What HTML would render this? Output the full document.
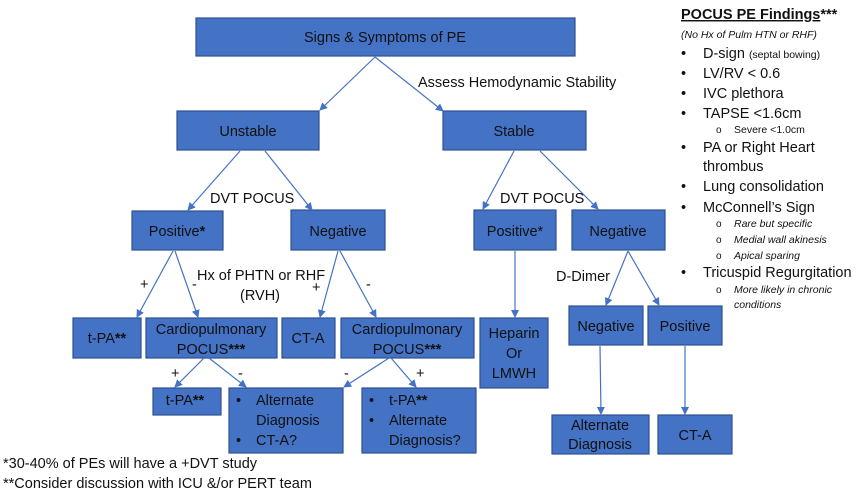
<!DOCTYPE html>
<html><head><meta charset="utf-8"><style>
html,body{margin:0;padding:0;background:#fff;}
svg{display:block;font-family:"Liberation Sans",sans-serif;}
.b{fill:#4472C4;stroke:#2F528F;stroke-width:1.2;}
.t{font-size:14.5px;fill:#111;text-anchor:middle;}
.l{stroke:#4472C4;stroke-width:1.2;fill:none;marker-end:url(#a);}
.x{font-size:14.5px;fill:#111;}
.s{font-size:12px;fill:#111;}
</style></head><body>
<svg width="862" height="491" viewBox="0 0 862 491">
<defs><marker id="a" markerWidth="8" markerHeight="8" refX="7" refY="4" orient="auto" markerUnits="userSpaceOnUse"><path d="M0,0 L8,4 L0,8 z" fill="#4472C4"/></marker></defs>
<rect class="b" x="196" y="18" width="379" height="38"/>
<text class="t" x="385" y="42">Signs &amp; Symptoms of PE</text>
<rect class="b" x="177" y="111" width="142" height="39"/>
<text class="t" x="248" y="136">Unstable</text>
<rect class="b" x="443" y="111" width="143" height="39"/>
<text class="t" x="514" y="136">Stable</text>
<rect class="b" x="132" y="211" width="91" height="39"/>
<text class="t" x="177" y="236">Positive<tspan font-weight="bold">*</tspan></text>
<rect class="b" x="291" y="210" width="94" height="40"/>
<text class="t" x="338" y="236">Negative</text>
<rect class="b" x="474" y="210" width="82" height="40"/>
<text class="t" x="515" y="236">Positive*</text>
<rect class="b" x="572" y="210" width="93" height="40"/>
<text class="t" x="618" y="236">Negative</text>
<rect class="b" x="73" y="318" width="68" height="40"/>
<text class="t" x="107" y="343">t-PA<tspan font-weight="bold">**</tspan></text>
<rect class="b" x="146" y="318" width="131" height="40"/>
<text class="t" x="211" y="334">Cardiopulmonary</text>
<text class="t" x="211" y="354">POCUS<tspan font-weight="bold">***</tspan></text>
<rect class="b" x="282" y="318" width="53" height="40"/>
<text class="t" x="308" y="343">CT-A</text>
<rect class="b" x="341" y="318" width="133" height="40"/>
<text class="t" x="407" y="334">Cardiopulmonary</text>
<text class="t" x="407" y="354">POCUS<tspan font-weight="bold">***</tspan></text>
<rect class="b" x="480" y="318" width="68" height="70"/>
<text class="t" x="514" y="338">Heparin</text>
<text class="t" x="514" y="358">Or</text>
<text class="t" x="514" y="378">LMWH</text>
<rect class="b" x="569" y="306" width="74" height="39"/>
<text class="t" x="606" y="331">Negative</text>
<rect class="b" x="648" y="306" width="74" height="39"/>
<text class="t" x="685" y="331">Positive</text>
<rect class="b" x="153" y="388" width="68" height="27"/>
<text class="t" x="185" y="405">t-PA<tspan font-weight="bold">**</tspan></text>
<rect class="b" x="229" y="388" width="114" height="65"/>
<text class="x" x="236" y="405">•</text><text class="x" x="256" y="405">Alternate</text>
<text class="x" x="256" y="425">Diagnosis</text>
<text class="x" x="236" y="445">•</text><text class="x" x="256" y="445">CT-A?</text>
<rect class="b" x="362" y="388" width="114" height="65"/>
<text class="x" x="369" y="405">•</text><text class="x" x="389" y="405">t-PA<tspan font-weight="bold">**</tspan></text>
<text class="x" x="369" y="425">•</text><text class="x" x="389" y="425">Alternate</text>
<text class="x" x="389" y="445">Diagnosis?</text>
<rect class="b" x="552" y="415" width="97" height="39"/>
<text class="t" x="600" y="430">Alternate</text>
<text class="t" x="600" y="449">Diagnosis</text>
<rect class="b" x="658" y="415" width="74" height="39"/>
<text class="t" x="695" y="440">CT-A</text>
<path class="l" d="M375,57 L320,110"/>
<path class="l" d="M375,57 L443,111"/>
<path class="l" d="M240,151 L188,210"/>
<path class="l" d="M265,151 L312,210"/>
<path class="l" d="M514,151 L483,209"/>
<path class="l" d="M540,151 L598,209"/>
<path class="l" d="M173,251 L137,317"/>
<path class="l" d="M175,251 L198,317"/>
<path class="l" d="M338,251 L320,317"/>
<path class="l" d="M340,251 L376,317"/>
<path class="l" d="M515,251 L515,317"/>
<path class="l" d="M628,251 L606,305"/>
<path class="l" d="M628,251 L659,305"/>
<path class="l" d="M204,358 L175,387"/>
<path class="l" d="M209,358 L246,387"/>
<path class="l" d="M389,358 L344,387"/>
<path class="l" d="M391,358 L416,387"/>
<path class="l" d="M600,346 L601,414"/>
<path class="l" d="M685,346 L685,414"/>
<text class="x" x="418" y="87">Assess Hemodynamic Stability</text>
<text class="x" x="210" y="203">DVT POCUS</text>
<text class="x" x="500" y="203">DVT POCUS</text>
<text class="x" x="140" y="289">+</text>
<text class="x" x="192" y="289">-</text>
<text class="x" x="197" y="280">Hx of PHTN or RHF</text>
<text class="x" x="240" y="300">(RVH)</text>
<text class="x" x="312" y="292">+</text>
<text class="x" x="366" y="289">-</text>
<text class="x" x="171" y="378">+</text>
<text class="x" x="238" y="378">-</text>
<text class="x" x="344" y="378">-</text>
<text class="x" x="416" y="378">+</text>
<text class="x" x="556" y="281">D-Dimer</text>
<text class="x" x="3" y="468">*30-40% of PEs will have a +DVT study</text>
<text class="x" x="3" y="488">**Consider discussion with ICU &amp;/or PERT team</text>
<text x="681" y="19" font-size="14.5" font-weight="bold" fill="#111"><tspan text-decoration="underline">POCUS PE Findings</tspan>***</text>
<text x="681" y="38" font-size="10.5" font-style="italic" fill="#111">(No Hx of Pulm HTN or RHF)</text>
<g class="x">
<text x="681" y="58">•</text><text x="703" y="58">D-sign <tspan font-size="10.5">(septal bowing)</tspan></text>
<text x="681" y="78">•</text><text x="703" y="78">LV/RV &lt; 0.6</text>
<text x="681" y="98">•</text><text x="703" y="98">IVC plethora</text>
<text x="681" y="118">•</text><text x="703" y="118">TAPSE &lt;1.6cm</text>
<text x="681" y="152">•</text><text x="703" y="152">PA or Right Heart</text>
<text x="703" y="171">thrombus</text>
<text x="681" y="191">•</text><text x="703" y="191">Lung consolidation</text>
<text x="681" y="212">•</text><text x="703" y="212">McConnell’s Sign</text>
<text x="681" y="277">•</text><text x="703" y="277">Tricuspid Regurgitation</text>
</g>
<g class="s">
<text x="716" y="133" font-size="10">o</text><text x="734" y="133" font-size="10.5">Severe &lt;1.0cm</text>
<text x="716" y="227" font-size="10">o</text><text x="734" y="227" font-style="italic" font-size="10.5">Rare but specific</text>
<text x="716" y="243" font-size="10">o</text><text x="734" y="243" font-style="italic" font-size="10.5">Medial wall akinesis</text>
<text x="716" y="259" font-size="10">o</text><text x="734" y="259" font-style="italic" font-size="10.5">Apical sparing</text>
<text x="716" y="293" font-size="10">o</text><text x="734" y="293" font-style="italic" font-size="10.5">More likely in chronic</text>
<text x="734" y="308" font-style="italic" font-size="10.5">conditions</text>
</g>
</svg>
</body></html>
